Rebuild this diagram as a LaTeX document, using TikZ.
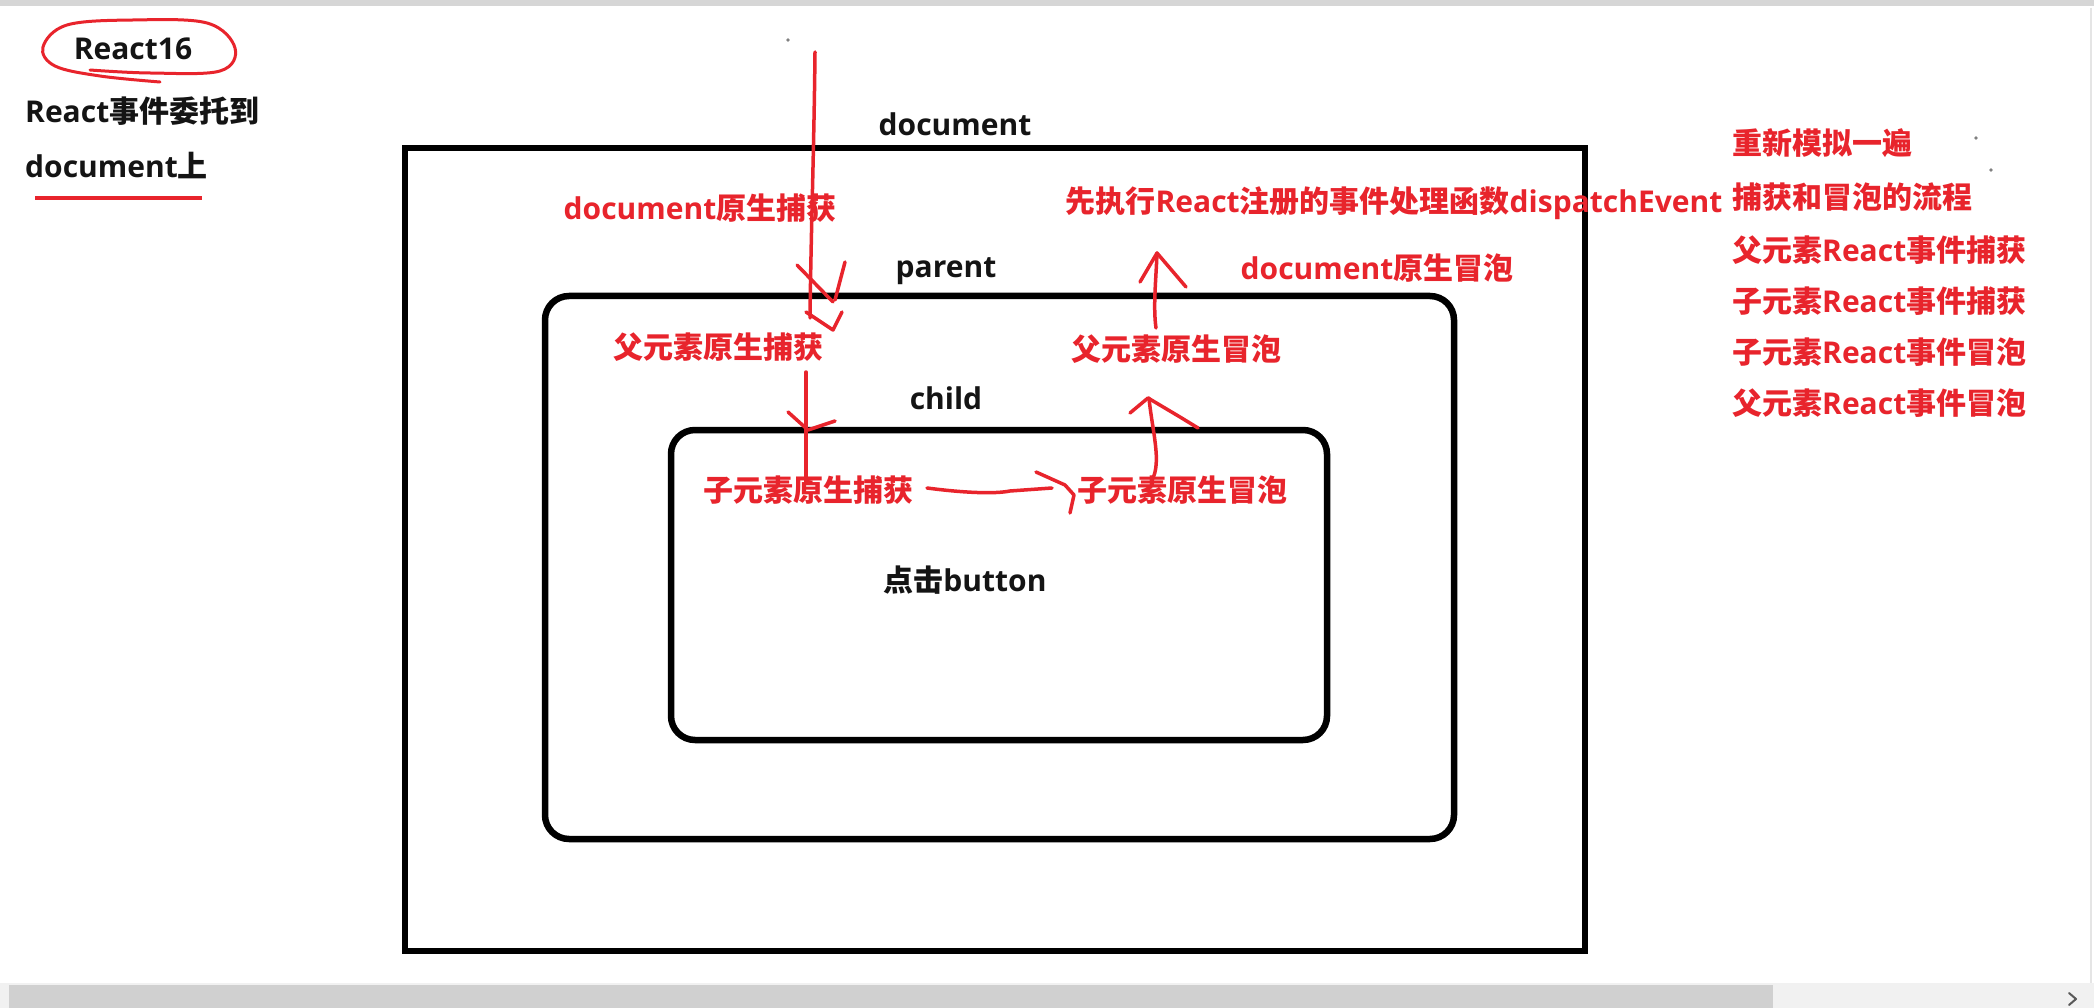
\documentclass[tikz,border=0pt]{standalone}
\usepackage{fontspec}
\setmainfont{Open Sans}
\newfontfamily\cjk{Noto Sans CJK SC}
\newcommand{\zh}[1]{{\cjk #1}}
\definecolor{pen}{RGB}{232,36,44}
\definecolor{ink}{RGB}{20,20,20}
\definecolor{track}{RGB}{241,241,241}
\definecolor{thumb}{RGB}{208,208,208}
\definecolor{topband}{RGB}{214,214,214}
\begin{document}
\begin{tikzpicture}[x=1pt,y=-1pt,
  lbl/.style={font=\fontsize{30}{36}\selectfont\bfseries, inner sep=0pt},
  redlbl/.style={lbl, text=pen},
  blklbl/.style={lbl, text=ink},
  box/.style={draw=black, line width=6.5pt, inner sep=0pt},
  stroke/.style={draw=pen, line width=3.5pt, line cap=round, line join=round}]
\useasboundingbox (0,0) rectangle (2094,1008);
\fill[white] (0,0) rectangle (2094,1008);
% screen chrome
\fill[topband] (0,0) rectangle (2094,6);
\draw[gray!20, line width=2pt] (2091,8) -- (2091,983);
\fill[track] (0,983) rectangle (2094,1008);
\fill[thumb] (9,985) rectangle (1773,1008);
\draw[gray!70!black, line width=2pt, line cap=round, line join=round] (2069,993) -- (2076,999) -- (2069,1005);
% stray dots
\fill[gray] (788,40) circle (1.8);
\fill[gray] (1976,138) circle (1.8);
\fill[gray] (1991,170) circle (1.8);

% boxes
\node[box, minimum width=1180pt, minimum height=803pt] (docbox) at (995,549.5) {};
\node[box, rounded corners=24pt, minimum width=909pt, minimum height=543pt] (parbox) at (999.5,567.5) {};
\node[box, rounded corners=24pt, minimum width=656pt, minimum height=310pt] (chbox) at (999,585) {};

% left notes
\node[blklbl] (r16) at (133,49) {React16};
\draw[stroke, line width=3pt] plot[smooth, tension=0.6] coordinates {(160,82) (100,76) (55,66) (43,47) (67,25) (133,20) (207,23) (235,48) (220,71) (150,73) (90,70)};
\node[blklbl, anchor=west] (del1) at (25,111) {React\zh{事件委托到}};
\node[blklbl, anchor=west] (del2) at (25,166) {document\zh{上}};
\draw[draw=pen, line width=4pt] (35,198) -- (202,198);

% black labels
\node[blklbl] (ldoc) at (955,124) {document};
\node[blklbl] (lpar) at (946,271) {parent};
\node[blklbl] (lch) at (946,398) {child};
\node[blklbl] (lbtn) at (965,580) {\zh{点击}button};

% red labels
\node[redlbl] (dcap) at (700,208) {document\zh{原生捕获}};
\node[redlbl] (pcap) at (718,347) {\zh{父元素原生捕获}};
\node[redlbl] (ccap) at (808,490) {\zh{子元素原生捕获}};
\node[redlbl] (cbub) at (1182,490) {\zh{子元素原生冒泡}};
\node[redlbl] (pbub) at (1176,349) {\zh{父元素原生冒泡}};
\node[redlbl] (dbub) at (1377,268) {document\zh{原生冒泡}};
\node[redlbl] (disp) at (1394,203) {\zh{先执行}React\zh{注册的事件处理函数}dispatchEvent};

\node[redlbl, anchor=west] (s1) at (1732,143) {\zh{重新模拟一遍}};
\node[redlbl, anchor=west] (s2) at (1732,197) {\zh{捕获和冒泡的流程}};
\node[redlbl, anchor=west] (s3) at (1732,250) {\zh{父元素}React\zh{事件捕获}};
\node[redlbl, anchor=west] (s4) at (1732,301) {\zh{子元素}React\zh{事件捕获}};
\node[redlbl, anchor=west] (s5) at (1732,352) {\zh{子元素}React\zh{事件冒泡}};
\node[redlbl, anchor=west] (s6) at (1732,403) {\zh{父元素}React\zh{事件冒泡}};

% hand-drawn arrows
\coordinate (a0) at (815,52);
\coordinate (a1) at (810,318);
\draw[stroke] (a0) .. controls (814,150) and (811,230) .. (a1);
\draw[stroke] (797,265) -- (833,302);
\draw[stroke] (845,262) -- (835,300);
\draw[stroke] (806,312) -- (833,330) -- (842,312);

\coordinate (b0) at (806,372);
\coordinate (b1) at (806,482);
\draw[stroke] (b0) -- (b1);
\draw[stroke] (788,412) -- (808,430) -- (835,421);

\coordinate (c0) at (927,488);
\coordinate (c1) at (1052,488);
\draw[stroke] (c0) .. controls (965,493) and (995,494) .. (1010,491) -- (c1);
\draw[stroke] (1036,472) -- (1065,485) -- (1074,495) -- (1070,513);

\coordinate (d0) at (1152,480);
\coordinate (d1) at (1149,398);
\draw[stroke] (d0) .. controls (1162,462) and (1152,430) .. (d1);
\draw[stroke] (1130,413) -- (1148,398) -- (1180,417) -- (1198,428);

\coordinate (e0) at (1156,328);
\coordinate (e1) at (1157,253);
\draw[stroke] (e0) .. controls (1153,307) and (1156,280) .. (e1);
\draw[stroke] (1140,282) -- (e1) -- (1186,287);
\end{tikzpicture}
\end{document}
